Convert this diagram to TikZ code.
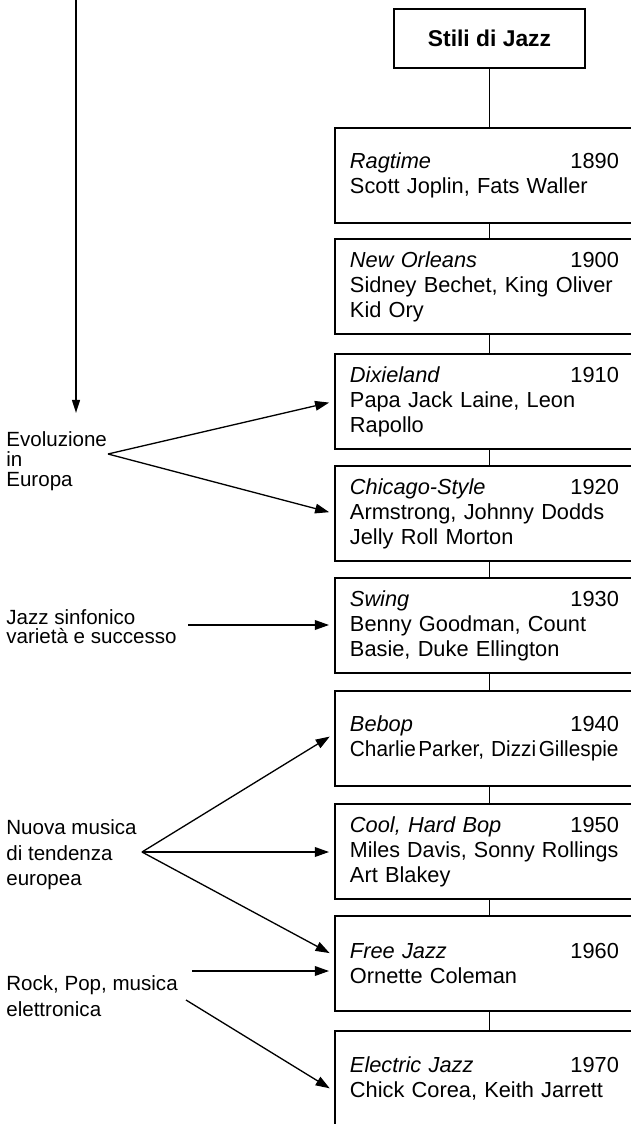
\documentclass[tikz,border=0pt]{standalone}
\usepackage{fontspec}
\setmainfont{Liberation Sans}
\usetikzlibrary{arrows.meta}

\tikzset{
	titolobox/.style={draw, line width=1.1pt, minimum width=3.82cm, minimum height=1.18cm, font=\fontsize{13}{15}\selectfont\bfseries},
	stilebox/.style={draw, line width=1.1pt, anchor=north west, text width=5.38cm, inner xsep=0.3cm, minimum height=1.9cm, align=left, font=\fontsize{12.4}{14.23}\selectfont},
	influsso/.style={anchor=west, align=left, inner sep=0pt},
	tronco/.style={line width=1.1pt},
	freccia/.style={line width=0.75pt, shorten >=0.1cm, -{Triangle[length=8pt,width=5.5pt]}}
}

\begin{document}
\begin{tikzpicture}[x=0.02cm, y=-0.02cm]
	\useasboundingbox (0,0) rectangle (631,1124);
	\clip (0,0) rectangle (631,1124);
	
	% time arrow on the left
	\coordinate (tempo) at (76,0);
	\coordinate (tempofine) at (76,413);
	\draw[line width=1pt, -{Triangle[length=7.5pt,width=4.5pt]}] (tempo) -- (tempofine);
	
	\node[titolobox] (titolo) at (489.5,38.5) {Stili di Jazz};
	
	\node[stilebox] (ragtime) at (334,127) {\textit{Ragtime}\hfill 1890\\Scott Joplin, Fats Waller};
	\node[stilebox] (neworleans) at (334,238) {\textit{New Orleans}\hfill 1900\\Sidney Bechet, King Oliver\\Kid Ory};
	\node[stilebox] (dixieland) at (334,353) {\textit{Dixieland}\hfill 1910\\Papa Jack Laine, Leon\\Rapollo};
	\node[stilebox] (chicago) at (334,465) {\textit{Chicago-Style}\hfill 1920\\Armstrong, Johnny Dodds\\Jelly Roll Morton};
	\node[stilebox] (swing) at (334,577) {\textit{Swing}\hfill 1930\\Benny Goodman, Count\\Basie, Duke Ellington};
	% this line is set tighter in the original
	\node[stilebox] (bebop) at (334,690) {\textit{Bebop}\hfill 1940\\\scalebox{0.955}[1]{Charlie\hspace{0.12em}Parker, Dizzi\hspace{0.12em}Gillespie}};
	\node[stilebox] (cool) at (334,803) {\textit{Cool, Hard Bop}\hfill 1950\\\scalebox{0.985}[1]{Miles Davis, Sonny Rollings}\\Art Blakey};
	\node[stilebox] (free) at (334,915) {\textit{Free Jazz}\hfill 1960\\Ornette Coleman};
	\node[stilebox] (electric) at (334,1030) {\textit{Electric Jazz}\hfill 1970\\Chick Corea, Keith Jarrett};
	
	\draw[tronco] (titolo.south) -- (titolo.south |- ragtime.north)
		(titolo.south |- ragtime.south) -- (titolo.south |- neworleans.north)
		(titolo.south |- neworleans.south) -- (titolo.south |- dixieland.north)
		(titolo.south |- dixieland.south) -- (titolo.south |- chicago.north)
		(titolo.south |- chicago.south) -- (titolo.south |- swing.north)
		(titolo.south |- swing.south) -- (titolo.south |- bebop.north)
		(titolo.south |- bebop.south) -- (titolo.south |- cool.north)
		(titolo.south |- cool.south) -- (titolo.south |- free.north)
		(titolo.south |- free.south) -- (titolo.south |- electric.north);
	
	% influences from the left
	\node[influsso, font=\fontsize{11.7}{11.4}\selectfont] (europa) at (6,461.5) {Evoluzione\\in\\Europa};
	\node[influsso, font=\fontsize{11.7}{10.8}\selectfont] (sinfonico) at (6,627) {Jazz sinfonico\\varietà e successo};
	\node[influsso, font=\fontsize{11.7}{14.5}\selectfont] (nuova) at (6,855) {Nuova musica\\di tendenza\\europea};
	\node[influsso, font=\fontsize{11.7}{14.8}\selectfont] (rock) at (6,996.5) {Rock, Pop, musica\\elettronica};
	
	\coordinate (europapunto) at (108,454);
	\coordinate (sinfonicopunto) at (188,625);
	\coordinate (nuovapunto) at (142,852);
	\coordinate (rockpunto) at (192,971);
	\coordinate (rockpunto2) at (186,1000);
	
	\draw[freccia] (europapunto) -- (dixieland.west);
	\draw[freccia] (europapunto) -- (chicago.west);
	\draw[freccia] (sinfonicopunto) -- (sinfonicopunto -| swing.west);
	\draw[freccia] (nuovapunto) -- ([yshift=0.09cm]bebop.west);
	\draw[freccia] (nuovapunto) -- (nuovapunto -| cool.west);
	\draw[freccia] (nuovapunto) -- ([yshift=0.16cm]free.west);
	\draw[freccia] (rockpunto) -- (rockpunto -| free.west);
	\draw[freccia] (rockpunto2) -- ([yshift=-0.25cm]electric.west);
\end{tikzpicture}
\end{document}
